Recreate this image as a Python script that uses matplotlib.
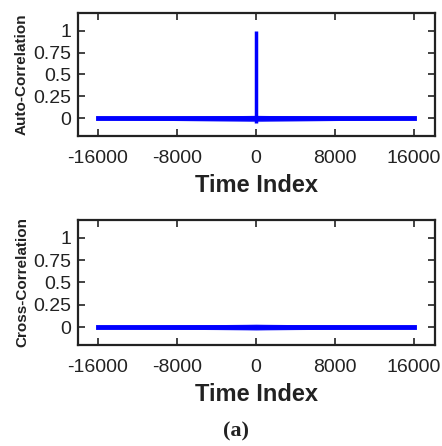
import numpy as np
from matplotlib import pyplot as plt

lags = [-16000, -12000, -8000, -4000, -1000, 0, 1000, 4000, 8000, 12000, 16000]
auto_upper = [0.010, 0.018, 0.024, 0.030, 0.034, 0.036, 0.034, 0.030, 0.024, 0.018, 0.010]
auto_lower = [-0.010, -0.018, -0.024, -0.030, -0.034, -0.036, -0.034, -0.030, -0.024, -0.018, -0.010]
cross_upper = [0.010, 0.018, 0.024, 0.028, 0.032, 0.034, 0.032, 0.028, 0.024, 0.018, 0.010]
cross_lower = [-0.010, -0.018, -0.024, -0.028, -0.032, -0.034, -0.032, -0.028, -0.024, -0.018, -0.010]

# zero-lag peak of the auto-correlation
peak_lag = 0
peak_top = 1.0
peak_bottom = -0.05

xticks = [-16000, -8000, 0, 8000, 16000]
yticks = [0, 0.25, 0.5, 0.75, 1]
ytick_labels = ['0', '0.25', '0.5', '0.75', '1']

blue = '#0000ff'
plt.rcParams['font.family'] = ['Liberation Sans', 'DejaVu Sans']

fig = plt.figure(figsize=(4.42, 4.46), dpi=100)
ax_auto = fig.add_axes([0.1765, 0.695, 0.8075, 0.276])
ax_cross = fig.add_axes([0.1765, 0.2265, 0.8075, 0.2805])


def style(ax, ylabel):
	ax.set_xlim(-18000, 18100)
	ax.set_ylim(-0.2, 1.2)
	ax.set_xticks(xticks)
	ax.set_xticklabels([str(t) for t in xticks])
	ax.set_yticks(yticks)
	ax.set_yticklabels(ytick_labels)
	ax.tick_params(direction='in', length=5, width=1.2, top=True, right=True,
		labelsize=14, colors='#222222')
	ax.tick_params(axis='x', pad=10)
	ax.tick_params(axis='y', pad=5)
	for s in ax.spines.values():
		s.set_linewidth(1.6)
		s.set_color('#222222')
	ax.set_xlabel('Time Index', fontsize=17, fontweight='bold', color='#222222', labelpad=5)
	ax.set_ylabel(ylabel, fontsize=11, fontweight='bold', color='#222222', labelpad=3)


# auto-correlation
ax_auto.fill_between(lags, auto_lower, auto_upper, color=blue, alpha=0.7, lw=0)
ax_auto.plot(lags, [0] * len(lags), color=blue, linewidth=3.5)
ax_auto.vlines(peak_lag, peak_bottom, peak_top, color=blue, linewidth=2.5)
style(ax_auto, 'Auto-Correlation')

# cross-correlation
ax_cross.fill_between(lags, cross_lower, cross_upper, color=blue, alpha=0.7, lw=0)
ax_cross.plot(lags, [0] * len(lags), color=blue, linewidth=3.5)
style(ax_cross, 'Cross-Correlation')

fig.text(0.534, 0.032, '(a)', fontsize=16, fontweight='bold',
	family=['Liberation Serif', 'DejaVu Serif'], ha='center', va='center', color='#222222')

fig.savefig('out.png', dpi=100)
